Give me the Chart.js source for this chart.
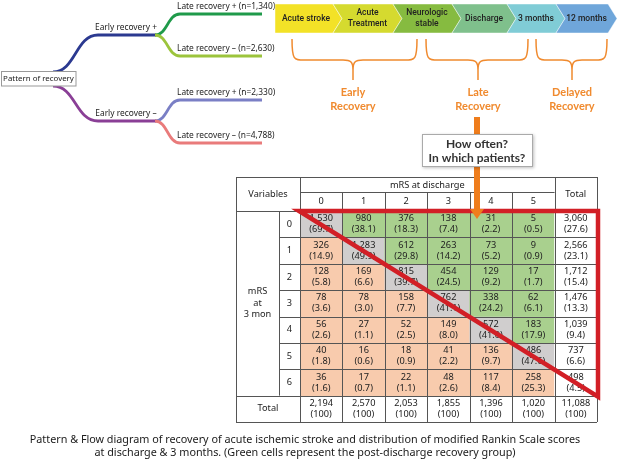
<!DOCTYPE html>
<html>
<head>
<meta charset="utf-8">
<script src="https://cdn.jsdelivr.net/npm/chart.js@4.4.0/dist/chart.umd.min.js"></script>
<style>
html, body { margin: 0; padding: 0; background: #fff; }
#c { display: block; }
</style>
</head>
<body>
<canvas id="c" width="620" height="465"></canvas>
<script>
// mRS at discharge (columns) x mRS at 3 months (rows)
const dischargeCols = ['0', '1', '2', '3', '4', '5', 'Total'];
const monthRows = ['0', '1', '2', '3', '4', '5', '6', 'Total'];

const counts0 = [1530, 980, 376, 138, 31, 5, 3060];
const counts1 = [326, 1283, 612, 263, 73, 9, 2566];
const counts2 = [128, 169, 815, 454, 129, 17, 1712];
const counts3 = [78, 78, 158, 762, 338, 62, 1476];
const counts4 = [56, 27, 52, 149, 572, 183, 1039];
const counts5 = [40, 16, 18, 41, 136, 486, 737];
const counts6 = [36, 17, 22, 48, 117, 258, 498];
const countsTotal = [2194, 2570, 2053, 1855, 1396, 1020, 11088];

const pct0 = [69.7, 38.1, 18.3, 7.4, 2.2, 0.5, 27.6];
const pct1 = [14.9, 49.9, 29.8, 14.2, 5.2, 0.9, 23.1];
const pct2 = [5.8, 6.6, 39.7, 24.5, 9.2, 1.7, 15.4];
const pct3 = [3.6, 3.0, 7.7, 41.1, 24.2, 6.1, 13.3];
const pct4 = [2.6, 1.1, 2.5, 8.0, 41.0, 17.9, 9.4];
const pct5 = [1.8, 0.6, 0.9, 2.2, 9.7, 47.6, 6.6];
const pct6 = [1.6, 0.7, 1.1, 2.6, 8.4, 25.3, 4.5];
const pctTotal = [100, 100, 100, 100, 100, 100, 100];

const countRows = [counts0, counts1, counts2, counts3, counts4, counts5, counts6, countsTotal];
const pctRows = [pct0, pct1, pct2, pct3, pct4, pct5, pct6, pctTotal];

// flow diagram
const earlyLabels = ['Early recovery +', 'Early recovery \u2013'];
const lateLabels = ['Late recovery + (n=1,340)', 'Late recovery \u2013 (n=2,630)',
                    'Late recovery + (n=2,330)', 'Late recovery \u2013 (n=4,788)'];

// timeline
const stages = [['Acute stroke'], ['Acute', 'Treatment'], ['Neurologic', 'stable'],
                ['Discharge'], ['3 months'], ['12 months']];
const stageColors = ['#f3e227', '#d5da2f', '#86bb40', '#7fc08c', '#80ccd6', '#6fa6da'];
const phases = [['Early', 'Recovery'], ['Late', 'Recovery'], ['Delayed', 'Recovery']];

const GREEN = '#a9d08e', PEACH = '#f8cbad', GREY = '#d0cece';

function cellColor(r, c) {
    if (r > 6 || c > 5) return '#ffffff';
    if (c > r) return GREEN;
    if (c === r) return GREY;
    return PEACH;
}

const datasets = monthRows.map(function (lab, r) {
    return {
        label: 'mRS 3 mon ' + lab,
        data: dischargeCols.map(function () { return 1; }),
        backgroundColor: dischargeCols.map(function (c, i) { return cellColor(r, i); }),
        borderWidth: 0,
        barPercentage: 1,
        categoryPercentage: 1
    };
});

function fmt(n) { return n.toLocaleString('en-US'); }
function fmtPct(p) { return p === 100 ? '(100)' : '(' + p.toFixed(1) + ')'; }

function text(ctx, s, x, y, font, color, align) {
    ctx.font = font;
    ctx.fillStyle = color || '#222';
    ctx.textAlign = align || 'center';
    ctx.textBaseline = 'middle';
    ctx.fillText(s, x, y);
}

const TFONT = '9.2px "Noto Sans", sans-serif';

const drawTable = {
    id: 'drawTable',
    beforeDraw: function (chart) {
        const ctx = chart.ctx;
        ctx.save();
        ctx.fillStyle = '#fff';
        ctx.fillRect(0, 0, chart.width, chart.height);
        ctx.restore();
    },
    afterDatasetsDraw: function (chart) {
        const ctx = chart.ctx;
        const ca = chart.chartArea;
        const xs = chart.scales.x, ys = chart.scales.y;
        const colW = (ca.right - ca.left) / dischargeCols.length;
        const colEdge = function (i) { return xs.getPixelForValue(i) - colW / 2; };
        const rowEdge = function (r) { return ys.getPixelForValue(r); };
        const left = 236, numL = 279;
        const hTop = ca.top - 34, hMid = ca.top - 19;
        const bodyBottom = rowEdge(7);

        ctx.save();
        // cell text
        for (let r = 0; r < monthRows.length; r++) {
            const cy = (rowEdge(r) + rowEdge(r + 1)) / 2;
            for (let c = 0; c < dischargeCols.length; c++) {
                const cx = xs.getPixelForValue(c);
                text(ctx, fmt(countRows[r][c]), cx, cy - 5.5, TFONT);
                text(ctx, fmtPct(pctRows[r][c]), cx, cy + 5.5, TFONT);
            }
        }
        // headers
        text(ctx, 'Variables', (left + colEdge(0)) / 2, (hTop + ca.top) / 2, TFONT);
        text(ctx, 'mRS at discharge', (colEdge(0) + colEdge(6)) / 2, (hTop + hMid) / 2 + 0.5, TFONT);
        text(ctx, 'Total', xs.getPixelForValue(6), (hTop + ca.top) / 2, TFONT);
        for (let c = 0; c < 6; c++) {
            text(ctx, dischargeCols[c], xs.getPixelForValue(c), (hMid + ca.top) / 2, TFONT);
        }
        for (let r = 0; r < 7; r++) {
            text(ctx, monthRows[r], (numL + colEdge(0)) / 2, (rowEdge(r) + rowEdge(r + 1)) / 2, TFONT);
        }
        const midL = (left + numL) / 2, midY = (ca.top + bodyBottom) / 2;
        text(ctx, 'mRS', midL, midY - 12, TFONT);
        text(ctx, 'at', midL, midY, TFONT);
        text(ctx, '3 mon', midL, midY + 11, TFONT);
        text(ctx, 'Total', (left + colEdge(0)) / 2, (bodyBottom + ca.bottom) / 2, TFONT);

        // grid lines
        ctx.strokeStyle = '#555';
        ctx.lineWidth = 1;
        ctx.beginPath();
        const hl = function (x1, x2, y) { y = Math.round(y) + 0.5; ctx.moveTo(x1, y); ctx.lineTo(x2, y); };
        const vl = function (x, y1, y2) { x = Math.round(x) + 0.5; ctx.moveTo(x, y1); ctx.lineTo(x, y2); };
        hl(left, ca.right, hTop);
        hl(colEdge(0), colEdge(6), hMid);
        hl(left, ca.right, ca.top);
        for (let r = 1; r <= 6; r++) hl(numL, ca.right, rowEdge(r));
        hl(left, ca.right, bodyBottom);
        hl(left, ca.right, ca.bottom);
        vl(left, hTop, ca.bottom);
        vl(numL, ca.top, bodyBottom);
        vl(colEdge(0), hTop, ca.bottom);
        for (let c = 1; c < 6; c++) vl(colEdge(c), hMid, ca.bottom);
        vl(colEdge(6), hTop, ca.bottom);
        vl(ca.right, hTop, ca.bottom);
        ctx.stroke();

        // red triangle over the post-discharge recovery group
        ctx.strokeStyle = '#d21f26';
        ctx.lineWidth = 4.5;
        ctx.lineJoin = 'miter';
        ctx.beginPath();
        ctx.moveTo(colEdge(0) - 1, rowEdge(0));
        ctx.lineTo(ca.right + 1, rowEdge(0));
        ctx.lineTo(ca.right + 1, bodyBottom + 1);
        ctx.closePath();
        ctx.stroke();
        ctx.restore();
    },
    afterDraw: function (chart) {
        const ctx = chart.ctx;
        ctx.save();
        drawFlow(ctx);
        drawTimeline(ctx);
        drawArrow(ctx);
        // caption
        const cf = '10.8px "Noto Sans", sans-serif';
        text(ctx, 'Pattern & Flow diagram of recovery of acute ischemic stroke and distribution of modified Rankin Scale scores', 305, 440, cf, '#1a1a1a');
        text(ctx, 'at discharge & 3 months. (Green cells represent the post-discharge recovery group)', 305, 453, cf, '#1a1a1a');
        ctx.restore();
    }
};

function drawFlow(ctx) {
    const LF = '8.4px "Noto Sans", sans-serif';
    ctx.lineWidth = 2.8;
    ctx.lineCap = 'butt';
    function branch(color, x0, y0, x1, y1, xEnd) {
        ctx.strokeStyle = color;
        ctx.beginPath();
        ctx.moveTo(x0, y0);
        const m = (x0 + x1) / 2;
        ctx.bezierCurveTo(m, y0, m, y1, x1, y1);
        ctx.lineTo(xEnd, y1);
        ctx.stroke();
    }
    branch('#2b3990', 53, 72, 98, 35, 156);
    branch('#8a3f96', 53, 86, 98, 121, 156);
    branch('#1f9a4a', 155, 35, 180, 14, 262);
    branch('#9cc43c', 155, 35, 180, 56, 262);
    branch('#7a7fc5', 155, 121, 180, 100, 262);
    branch('#e97b7b', 155, 121, 180, 143, 262);

    // root box
    ctx.fillStyle = '#fff';
    ctx.fillRect(1, 71.5, 75, 14.5);
    ctx.strokeStyle = '#999';
    ctx.lineWidth = 1;
    ctx.strokeRect(1.5, 71.5, 74.5, 14.5);
    text(ctx, 'Pattern of recovery', 38.5, 79, '7.9px "Noto Sans", sans-serif', '#222');

    text(ctx, earlyLabels[0], 126, 28, LF, '#222');
    text(ctx, earlyLabels[1], 126, 114, LF, '#222');
    const ly = [7, 49, 93, 136];
    for (let i = 0; i < lateLabels.length; i++) {
        text(ctx, lateLabels[i], 177, ly[i], LF, '#222', 'left');
    }
}

function drawTimeline(ctx) {
    const b = [275, 333, 393, 452, 507, 556, 608];
    const top = 4, bot = 33, mid = (top + bot) / 2, d = 9;
    for (let i = 0; i < stages.length; i++) {
        ctx.fillStyle = stageColors[i];
        ctx.beginPath();
        ctx.moveTo(b[i], top);
        ctx.lineTo(b[i + 1], top);
        ctx.lineTo(b[i + 1] + d, mid);
        ctx.lineTo(b[i + 1], bot);
        ctx.lineTo(b[i], bot);
        if (i > 0) ctx.lineTo(b[i] + d, mid);
        ctx.closePath();
        ctx.fill();
        ctx.strokeStyle = 'rgba(255,255,255,0.45)';
        ctx.lineWidth = 1;
        ctx.stroke();
        const cx = (b[i] + b[i + 1]) / 2 + (i > 0 ? d / 2 : 2);
        const lines = stages[i];
        const SF = '500 8.5px Roboto, sans-serif';
        if (lines.length === 1) {
            text(ctx, lines[0], cx, mid, SF, '#222');
        } else {
            text(ctx, lines[0], cx, mid - 5.5, SF, '#222');
            text(ctx, lines[1], cx, mid + 5.5, SF, '#222');
        }
    }

    // braces
    const braces = [[292, 417, 353], [426, 528, 478], [536, 607, 572]];
    ctx.strokeStyle = '#f08a2e';
    ctx.lineWidth = 1.5;
    const t = 39, h = 60, tip = 80;
    braces.forEach(function (br, i) {
        const x1 = br[0], x2 = br[1], cx = br[2];
        ctx.beginPath();
        ctx.moveTo(x1, t);
        ctx.bezierCurveTo(x1, h, x1 + 2, h, x1 + 12, h);
        ctx.lineTo(cx - 10, h);
        ctx.bezierCurveTo(cx - 2, h, cx, h + 2, cx, h + 10);
        ctx.lineTo(cx, tip);
        ctx.moveTo(x2, t);
        ctx.bezierCurveTo(x2, h, x2 - 2, h, x2 - 12, h);
        ctx.lineTo(cx + 10, h);
        ctx.bezierCurveTo(cx + 2, h, cx, h + 2, cx, h + 10);
        ctx.stroke();
        const PF = 'bold 11px Lato, sans-serif';
        text(ctx, phases[i][0], cx, 92, PF, '#f08a2e');
        text(ctx, phases[i][1], cx, 106, PF, '#f08a2e');
    });
}

function drawArrow(ctx) {
    const x = 477;
    ctx.fillStyle = '#ef7d1c';
    ctx.fillRect(x - 3, 117, 6, 94);
    ctx.beginPath();
    ctx.moveTo(x - 7, 209);
    ctx.lineTo(x + 7, 209);
    ctx.lineTo(x, 219);
    ctx.closePath();
    ctx.fill();

    ctx.save();
    ctx.shadowColor = 'rgba(0,0,0,0.25)';
    ctx.shadowBlur = 3;
    ctx.shadowOffsetX = 1;
    ctx.shadowOffsetY = 1;
    ctx.fillStyle = '#fff';
    ctx.fillRect(422, 134, 111, 33);
    ctx.restore();
    ctx.strokeStyle = '#aaa';
    ctx.lineWidth = 1;
    ctx.strokeRect(422.5, 134.5, 110, 32);
    const BF = 'bold 12px Lato, sans-serif';
    text(ctx, 'How often?', x, 144, BF, '#333');
    text(ctx, 'In which patients?', x, 158, BF, '#333');
}

new Chart(document.getElementById('c'), {
    type: 'bar',
    data: { labels: dischargeCols, datasets: datasets },
    options: {
        responsive: false,
        animation: false,
        events: [],
        layout: { padding: { left: 300, right: 23, top: 211, bottom: 43 } },
        plugins: { legend: { display: false }, tooltip: { enabled: false } },
        scales: {
            x: { stacked: true, display: false },
            y: { stacked: true, display: false, min: 0, max: 8, reverse: true }
        }
    },
    plugins: [drawTable]
});
</script>
</body>
</html>
